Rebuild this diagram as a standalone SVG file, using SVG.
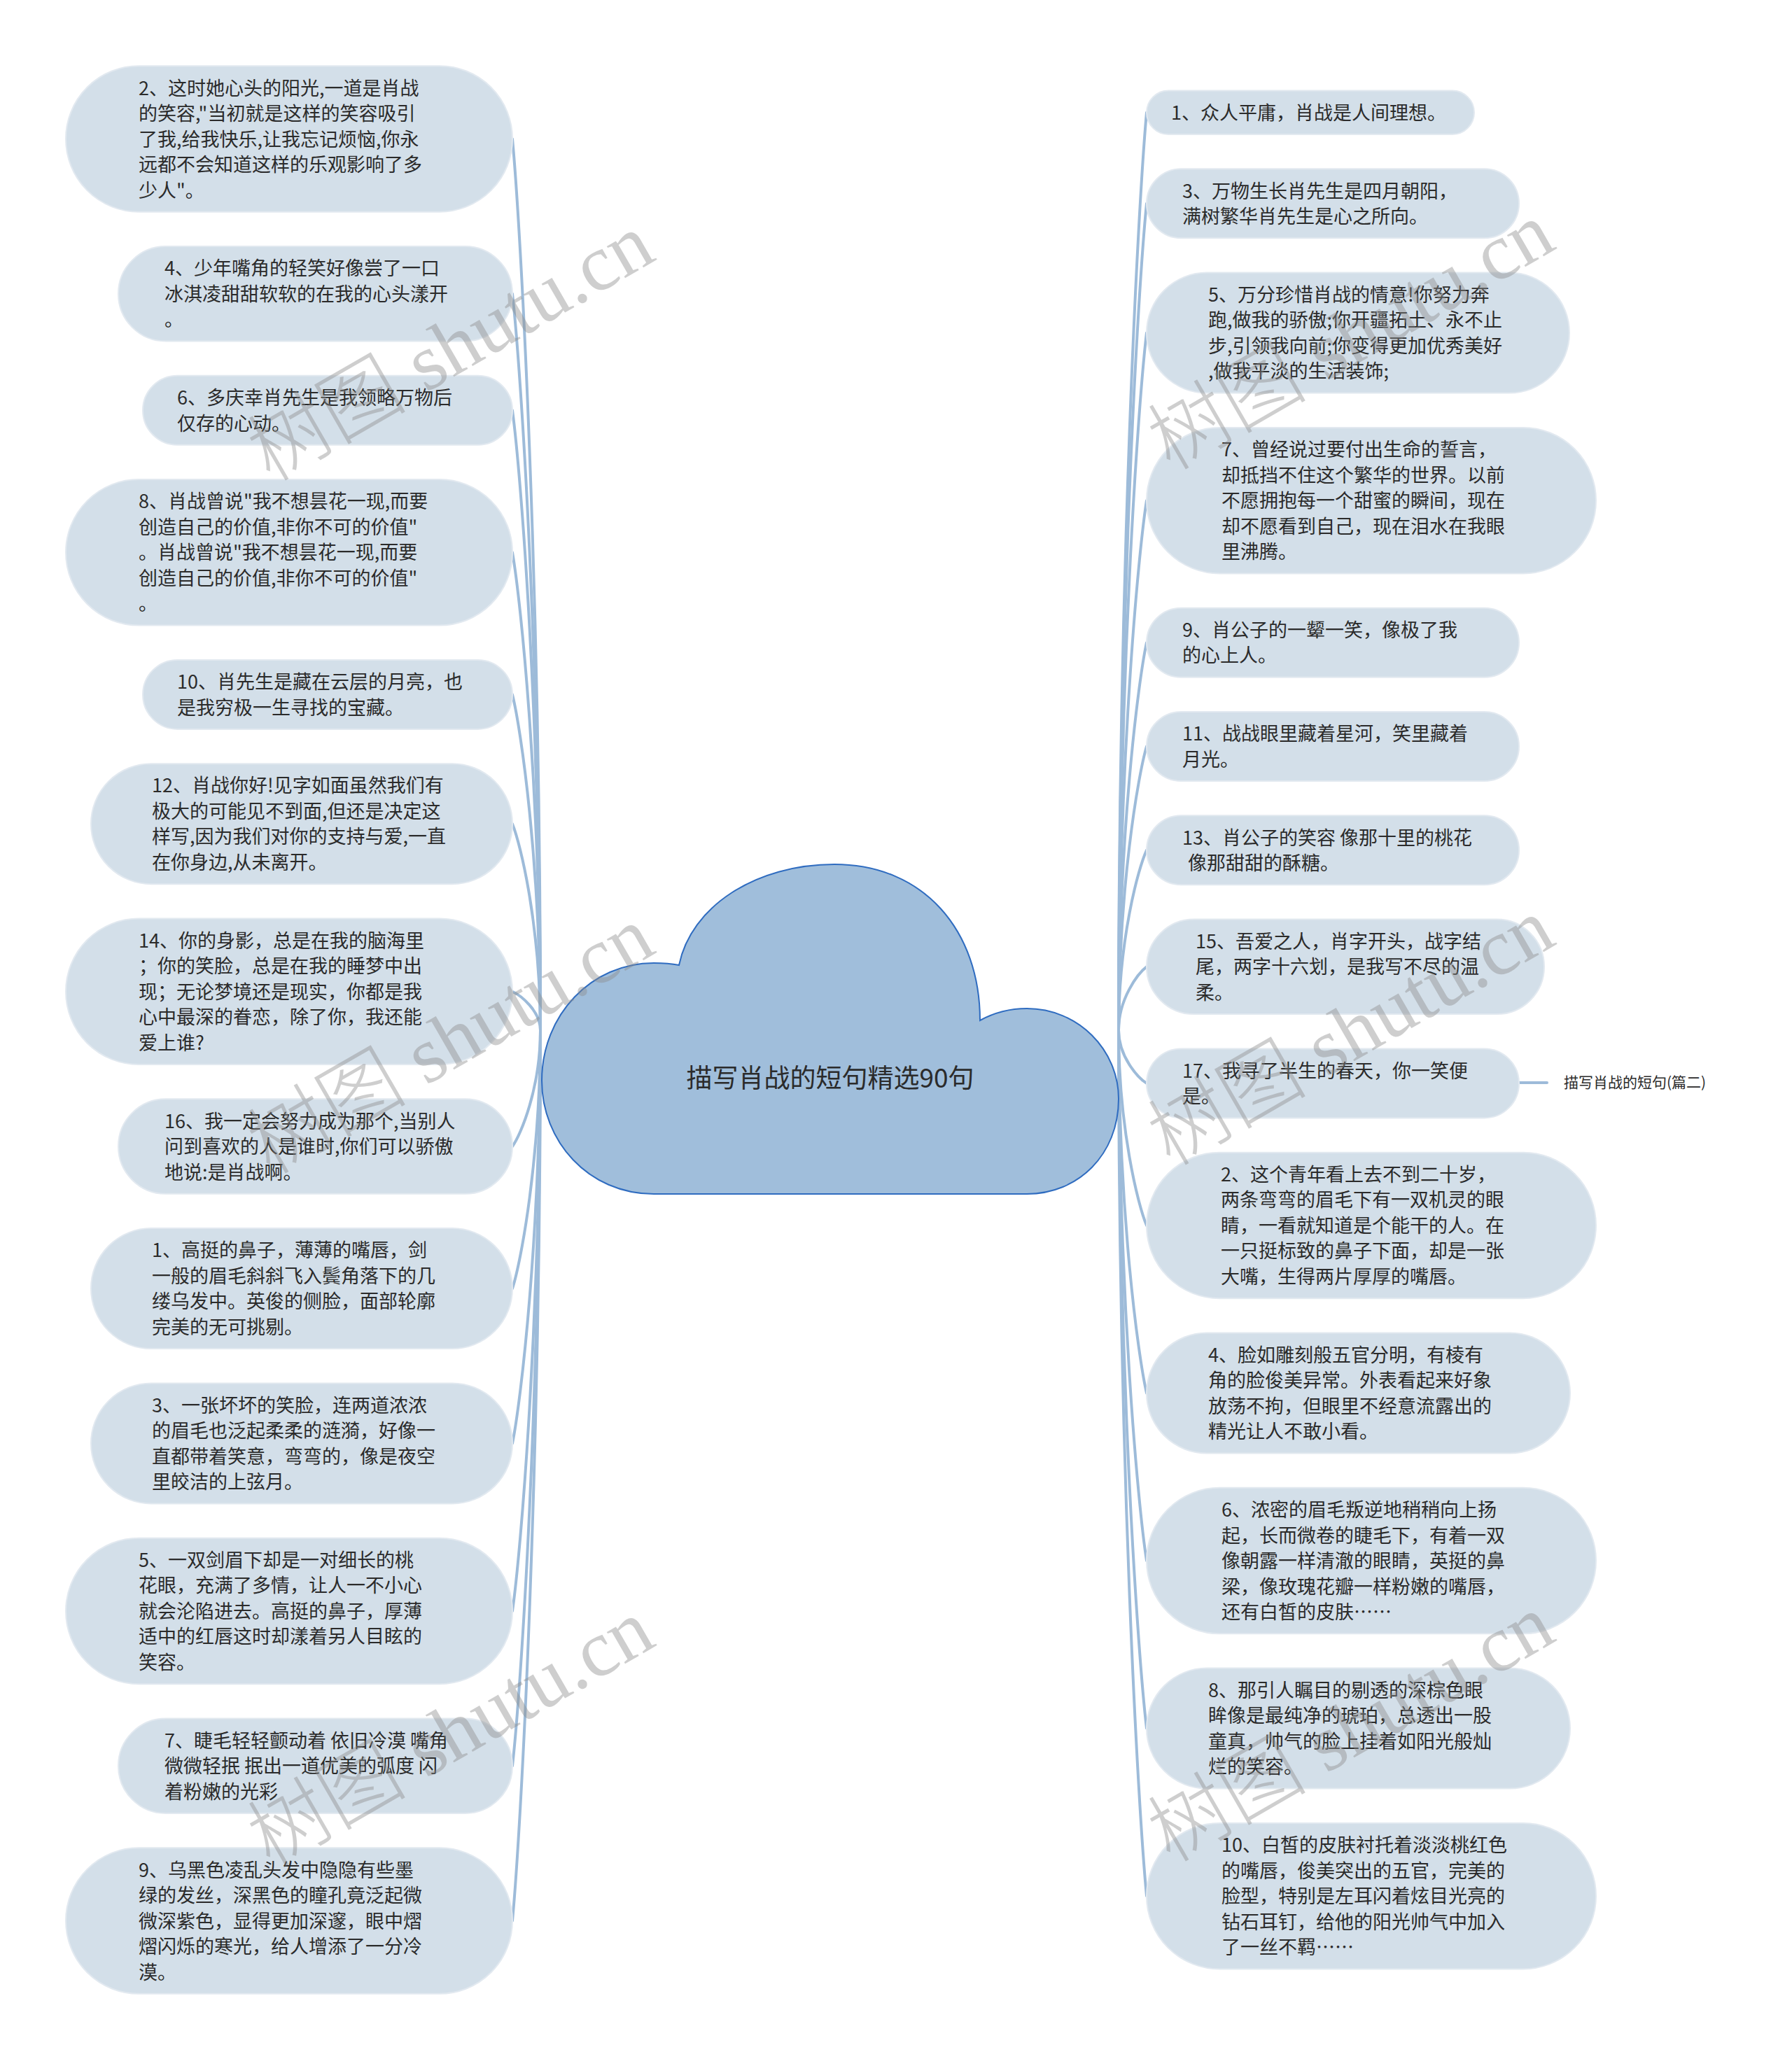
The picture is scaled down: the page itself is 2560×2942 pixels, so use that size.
<svg xmlns="http://www.w3.org/2000/svg" width="2560" height="2942" viewBox="0 0 2560 2942">
<style>
.bg{fill:#ffffff}
.conn path{fill:none;stroke:#9dbbd9;stroke-width:4;stroke-linecap:round}
.node rect{fill:#d3dfe9;stroke:#e2e9f0;stroke-width:2}
.t{font-family:"Noto Sans CJK SC","Liberation Sans",sans-serif;font-size:27px;fill:#2b2b2b}
.center{font-family:"Noto Sans CJK SC","Liberation Sans",sans-serif;font-size:37px;fill:#2b2b2b;text-anchor:middle}
.lbl{font-family:"Noto Sans CJK SC","Liberation Sans",sans-serif;font-size:21px;fill:#2b2b2b}
.wm{font-family:"Liberation Serif","Noto Sans CJK SC",serif;font-size:114px;fill:#8c8c8c;opacity:0.42;text-anchor:end;font-weight:300}
</style>
<rect class="bg" x="0" y="0" width="2560" height="2942"/>

<g id="connectors" class="conn">
<path d="M772,1472 C772,835.2 744,325.8 732,198.45"/>
<path d="M772,1472 C772,945.9 744,525 732,419.75"/>
<path d="M772,1472 C772,1029.2 744,674.9 732,586.3"/>
<path d="M772,1472 C772,1130.7 744,857.6 732,789.35"/>
<path d="M772,1472 C772,1232.2 744,1040.4 732,992.4"/>
<path d="M772,1472 C772,1324.6 744,1206.7 732,1177.2"/>
<path d="M772,1472 C772,1444.4 744,1422.3 732,1416.75"/>
<path d="M772,1472 C772,1555 744,1621.4 732,1638.05"/>
<path d="M772,1472 C772,1656.6 744,1804.2 732,1841.1"/>
<path d="M772,1472 C772,1767.2 744,2003.4 732,2062.4"/>
<path d="M772,1472 C772,1887 744,2218.9 732,2301.95"/>
<path d="M772,1472 C772,1997.6 744,2418.1 732,2523.25"/>
<path d="M772,1472 C772,2108.3 744,2617.3 732,2744.55"/>
<path d="M1598,1472 C1598,816.4 1626,291.9 1638,160.75"/>
<path d="M1598,1472 C1598,881.4 1626,408.9 1638,290.8"/>
<path d="M1598,1472 C1598,973.8 1626,575.2 1638,475.6"/>
<path d="M1598,1472 C1598,1093.6 1626,790.8 1638,715.15"/>
<path d="M1598,1472 C1598,1195.1 1626,973.6 1638,918.2"/>
<path d="M1598,1472 C1598,1269.3 1626,1107.1 1638,1066.5"/>
<path d="M1598,1472 C1598,1343.4 1626,1240.5 1638,1214.8"/>
<path d="M1598,1472 C1598,1426.7 1626,1390.4 1638,1381.35"/>
<path d="M1598,1472 C1598,1510 1626,1540.3 1638,1547.9"/>
<path d="M1598,1472 C1598,1611.5 1626,1723.1 1638,1750.95"/>
<path d="M1598,1472 C1598,1731.3 1626,1938.7 1638,1990.5"/>
<path d="M1598,1472 C1598,1851 1626,2154.2 1638,2230.05"/>
<path d="M1598,1472 C1598,1970.8 1626,2369.8 1638,2469.6"/>
<path d="M1598,1472 C1598,2090.6 1626,2585.4 1638,2709.15"/>
<path d="M2170,1547 L2210,1547"/>
</g>

<g id="root">
<path d="M970,1379 C987,1295 1080,1235 1192,1235 C1320,1235 1400,1330 1400,1458 C1420,1447 1442,1441 1467,1441 C1540,1441 1598,1500 1598,1570 C1598,1650 1540,1706 1467,1706 L934,1706 C840,1706 774,1630 774,1544 C774,1450 845,1376 934,1376 C948,1376 960,1377 970,1379 Z" fill="#a0bedb" stroke="#2f6cc0" stroke-width="2"/>
<text class="center" x="1186" y="1554">描写肖战的短句精选90句</text>
</g>

<g id="label-p2">
<text class="lbl" x="2234" y="1554">描写肖战的短句(篇二)</text>
</g>

<g id="L1" class="node"><rect x="94" y="94.2" width="638" height="208.5" rx="104.25"/>
<text class="t" x="198" y="135.5"><tspan x="198">2、这时她心头的阳光,一道是肖战</tspan><tspan x="198" dy="36.5">的笑容,"当初就是这样的笑容吸引</tspan><tspan x="198" dy="36.5">了我,给我快乐,让我忘记烦恼,你永</tspan><tspan x="198" dy="36.5">远都不会知道这样的乐观影响了多</tspan><tspan x="198" dy="36.5">少人"。</tspan></text></g>

<g id="L2" class="node"><rect x="169" y="352" width="563" height="135.5" rx="67.75"/>
<text class="t" y="393.25"><tspan x="235">4、少年嘴角的轻笑好像尝了一口</tspan><tspan x="235" dy="36.5">冰淇凌甜甜软软的在我的心头漾开</tspan><tspan x="235" dy="36.5">。</tspan></text></g>

<g id="L3" class="node"><rect x="204" y="536.8" width="528" height="99" rx="49.5"/>
<text class="t" y="578.05"><tspan x="253">6、多庆幸肖先生是我领略万物后</tspan><tspan x="253" dy="36.5">仅存的心动。</tspan></text></g>

<g id="L4" class="node"><rect x="94" y="685.1" width="638" height="208.5" rx="104.25"/>
<text class="t" y="726.35"><tspan x="198">8、肖战曾说"我不想昙花一现,而要</tspan><tspan x="198" dy="36.5">创造自己的价值,非你不可的价值"</tspan><tspan x="198" dy="36.5">。肖战曾说"我不想昙花一现,而要</tspan><tspan x="198" dy="36.5">创造自己的价值,非你不可的价值"</tspan><tspan x="198" dy="36.5">。</tspan></text></g>

<g id="L5" class="node"><rect x="204" y="942.9" width="528" height="99" rx="49.5"/>
<text class="t" y="984.15"><tspan x="253">10、肖先生是藏在云层的月亮，也</tspan><tspan x="253" dy="36.5">是我穷极一生寻找的宝藏。</tspan></text></g>

<g id="L6" class="node"><rect x="130" y="1091.2" width="602" height="172" rx="86"/>
<text class="t" y="1132.45"><tspan x="217">12、肖战你好!见字如面虽然我们有</tspan><tspan x="217" dy="36.5">极大的可能见不到面,但还是决定这</tspan><tspan x="217" dy="36.5">样写,因为我们对你的支持与爱,一直</tspan><tspan x="217" dy="36.5">在你身边,从未离开。</tspan></text></g>

<g id="L7" class="node"><rect x="94" y="1312.5" width="638" height="208.5" rx="104.25"/>
<text class="t" y="1353.75"><tspan x="198">14、你的身影，总是在我的脑海里</tspan><tspan x="198" dy="36.5">；你的笑脸，总是在我的睡梦中出</tspan><tspan x="198" dy="36.5">现；无论梦境还是现实，你都是我</tspan><tspan x="198" dy="36.5">心中最深的眷恋，除了你，我还能</tspan><tspan x="198" dy="36.5">爱上谁?</tspan></text></g>

<g id="L8" class="node"><rect x="169" y="1570.3" width="563" height="135.5" rx="67.75"/>
<text class="t" y="1611.55"><tspan x="235">16、我一定会努力成为那个,当别人</tspan><tspan x="235" dy="36.5">问到喜欢的人是谁时,你们可以骄傲</tspan><tspan x="235" dy="36.5">地说:是肖战啊。</tspan></text></g>

<g id="L9" class="node"><rect x="130" y="1755.1" width="602" height="172" rx="86"/>
<text class="t" y="1796.35"><tspan x="217">1、高挺的鼻子，薄薄的嘴唇，剑</tspan><tspan x="217" dy="36.5">一般的眉毛斜斜飞入鬓角落下的几</tspan><tspan x="217" dy="36.5">缕乌发中。英俊的侧脸，面部轮廓</tspan><tspan x="217" dy="36.5">完美的无可挑剔。</tspan></text></g>

<g id="L10" class="node"><rect x="130" y="1976.4" width="602" height="172" rx="86"/>
<text class="t" y="2017.65"><tspan x="217">3、一张坏坏的笑脸，连两道浓浓</tspan><tspan x="217" dy="36.5">的眉毛也泛起柔柔的涟漪，好像一</tspan><tspan x="217" dy="36.5">直都带着笑意，弯弯的，像是夜空</tspan><tspan x="217" dy="36.5">里皎洁的上弦月。</tspan></text></g>

<g id="L11" class="node"><rect x="94" y="2197.7" width="638" height="208.5" rx="104.25"/>
<text class="t" y="2238.95"><tspan x="198">5、一双剑眉下却是一对细长的桃</tspan><tspan x="198" dy="36.5">花眼，充满了多情，让人一不小心</tspan><tspan x="198" dy="36.5">就会沦陷进去。高挺的鼻子，厚薄</tspan><tspan x="198" dy="36.5">适中的红唇这时却漾着另人目眩的</tspan><tspan x="198" dy="36.5">笑容。</tspan></text></g>

<g id="L12" class="node"><rect x="169" y="2455.5" width="563" height="135.5" rx="67.75"/>
<text class="t" y="2496.75"><tspan x="235">7、睫毛轻轻颤动着 依旧冷漠 嘴角</tspan><tspan x="235" dy="36.5">微微轻抿 抿出一道优美的弧度 闪</tspan><tspan x="235" dy="36.5">着粉嫩的光彩</tspan></text></g>

<g id="L13" class="node"><rect x="94" y="2640.3" width="638" height="208.5" rx="104.25"/>
<text class="t" y="2681.55"><tspan x="198">9、乌黑色凌乱头发中隐隐有些墨</tspan><tspan x="198" dy="36.5">绿的发丝，深黑色的瞳孔竟泛起微</tspan><tspan x="198" dy="36.5">微深紫色，显得更加深邃，眼中熠</tspan><tspan x="198" dy="36.5">熠闪烁的寒光，给人增添了一分冷</tspan><tspan x="198" dy="36.5">漠。</tspan></text></g>

<g id="R1" class="node"><rect x="1638" y="129.5" width="468" height="62.5" rx="31.25"/>
<text class="t" y="170.75"><tspan x="1673">1、众人平庸，肖战是人间理想。</tspan></text></g>

<g id="R2" class="node"><rect x="1638" y="241.3" width="532" height="99" rx="49.5"/>
<text class="t" y="282.55"><tspan x="1689">3、万物生长肖先生是四月朝阳，</tspan><tspan x="1689" dy="36.5">满树繁华肖先生是心之所向。</tspan></text></g>

<g id="R3" class="node"><rect x="1638" y="389.6" width="604" height="172" rx="86"/>
<text class="t" y="430.85"><tspan x="1726">5、万分珍惜肖战的情意!你努力奔</tspan><tspan x="1726" dy="36.5">跑,做我的骄傲;你开疆拓土、永不止</tspan><tspan x="1726" dy="36.5">步,引领我向前;你变得更加优秀美好</tspan><tspan x="1726" dy="36.5">,做我平淡的生活装饰;</tspan></text></g>

<g id="R4" class="node"><rect x="1638" y="610.9" width="642" height="208.5" rx="104.25"/>
<text class="t" y="652.15"><tspan x="1745">7、曾经说过要付出生命的誓言，</tspan><tspan x="1745" dy="36.5">却抵挡不住这个繁华的世界。以前</tspan><tspan x="1745" dy="36.5">不愿拥抱每一个甜蜜的瞬间，现在</tspan><tspan x="1745" dy="36.5">却不愿看到自己，现在泪水在我眼</tspan><tspan x="1745" dy="36.5">里沸腾。</tspan></text></g>

<g id="R5" class="node"><rect x="1638" y="868.7" width="532" height="99" rx="49.5"/>
<text class="t" y="909.95"><tspan x="1689">9、肖公子的一颦一笑，像极了我</tspan><tspan x="1689" dy="36.5">的心上人。</tspan></text></g>

<g id="R6" class="node"><rect x="1638" y="1017" width="532" height="99" rx="49.5"/>
<text class="t" y="1058.25"><tspan x="1689">11、战战眼里藏着星河，笑里藏着</tspan><tspan x="1689" dy="36.5">月光。</tspan></text></g>

<g id="R7" class="node"><rect x="1638" y="1165.3" width="532" height="99" rx="49.5"/>
<text class="t" y="1206.55"><tspan x="1689">13、肖公子的笑容 像那十里的桃花</tspan><tspan x="1697" dy="36.5">像那甜甜的酥糖。</tspan></text></g>

<g id="R8" class="node"><rect x="1638" y="1313.6" width="568" height="135.5" rx="67.75"/>
<text class="t" y="1354.85"><tspan x="1708">15、吾爱之人，肖字开头，战字结</tspan><tspan x="1708" dy="36.5">尾，两字十六划，是我写不尽的温</tspan><tspan x="1708" dy="36.5">柔。</tspan></text></g>

<g id="R9" class="node"><rect x="1638" y="1498.4" width="532" height="99" rx="49.5"/>
<text class="t" y="1539.65"><tspan x="1689">17、我寻了半生的春天，你一笑便</tspan><tspan x="1689" dy="36.5">是。</tspan></text></g>

<g id="R10" class="node"><rect x="1638" y="1646.7" width="642" height="208.5" rx="104.25"/>
<text class="t" y="1687.95"><tspan x="1744">2、这个青年看上去不到二十岁，</tspan><tspan x="1744" dy="36.5">两条弯弯的眉毛下有一双机灵的眼</tspan><tspan x="1744" dy="36.5">睛，一看就知道是个能干的人。在</tspan><tspan x="1744" dy="36.5">一只挺标致的鼻子下面，却是一张</tspan><tspan x="1744" dy="36.5">大嘴，生得两片厚厚的嘴唇。</tspan></text></g>

<g id="R11" class="node"><rect x="1638" y="1904.5" width="605" height="172" rx="86"/>
<text class="t" y="1945.75"><tspan x="1726">4、脸如雕刻般五官分明，有棱有</tspan><tspan x="1726" dy="36.5">角的脸俊美异常。外表看起来好象</tspan><tspan x="1726" dy="36.5">放荡不拘，但眼里不经意流露出的</tspan><tspan x="1726" dy="36.5">精光让人不敢小看。</tspan></text></g>

<g id="R12" class="node"><rect x="1638" y="2125.8" width="642" height="208.5" rx="104.25"/>
<text class="t" y="2167.05"><tspan x="1745">6、浓密的眉毛叛逆地稍稍向上扬</tspan><tspan x="1745" dy="36.5">起，长而微卷的睫毛下，有着一双</tspan><tspan x="1745" dy="36.5">像朝露一样清澈的眼睛，英挺的鼻</tspan><tspan x="1745" dy="36.5">梁，像玫瑰花瓣一样粉嫩的嘴唇，</tspan><tspan x="1745" dy="36.5">还有白皙的皮肤……</tspan></text></g>

<g id="R13" class="node"><rect x="1638" y="2383.6" width="605" height="172" rx="86"/>
<text class="t" y="2424.85"><tspan x="1726">8、那引人瞩目的剔透的深棕色眼</tspan><tspan x="1726" dy="36.5">眸像是最纯净的琥珀，总透出一股</tspan><tspan x="1726" dy="36.5">童真，帅气的脸上挂着如阳光般灿</tspan><tspan x="1726" dy="36.5">烂的笑容。</tspan></text></g>

<g id="R14" class="node"><rect x="1638" y="2604.9" width="642" height="208.5" rx="104.25"/>
<text class="t" y="2646.15"><tspan x="1745">10、白皙的皮肤衬托着淡淡桃红色</tspan><tspan x="1745" dy="36.5">的嘴唇，俊美突出的五官，完美的</tspan><tspan x="1745" dy="36.5">脸型，特别是左耳闪着炫目光亮的</tspan><tspan x="1745" dy="36.5">钻石耳钉，给他的阳光帅气中加入</tspan><tspan x="1745" dy="36.5">了一丝不羁……</tspan></text></g>

<g id="watermarks">
<text class="wm" transform="translate(940,370) rotate(-30)">树图 shutu.cn</text>
<text class="wm" transform="translate(940,1360) rotate(-30)">树图 shutu.cn</text>
<text class="wm" transform="translate(940,2350) rotate(-30)">树图 shutu.cn</text>
<text class="wm" transform="translate(2226,354) rotate(-30)">树图 shutu.cn</text>
<text class="wm" transform="translate(2226,1348) rotate(-30)">树图 shutu.cn</text>
<text class="wm" transform="translate(2226,2343) rotate(-30)">树图 shutu.cn</text>
</g>
</svg>
